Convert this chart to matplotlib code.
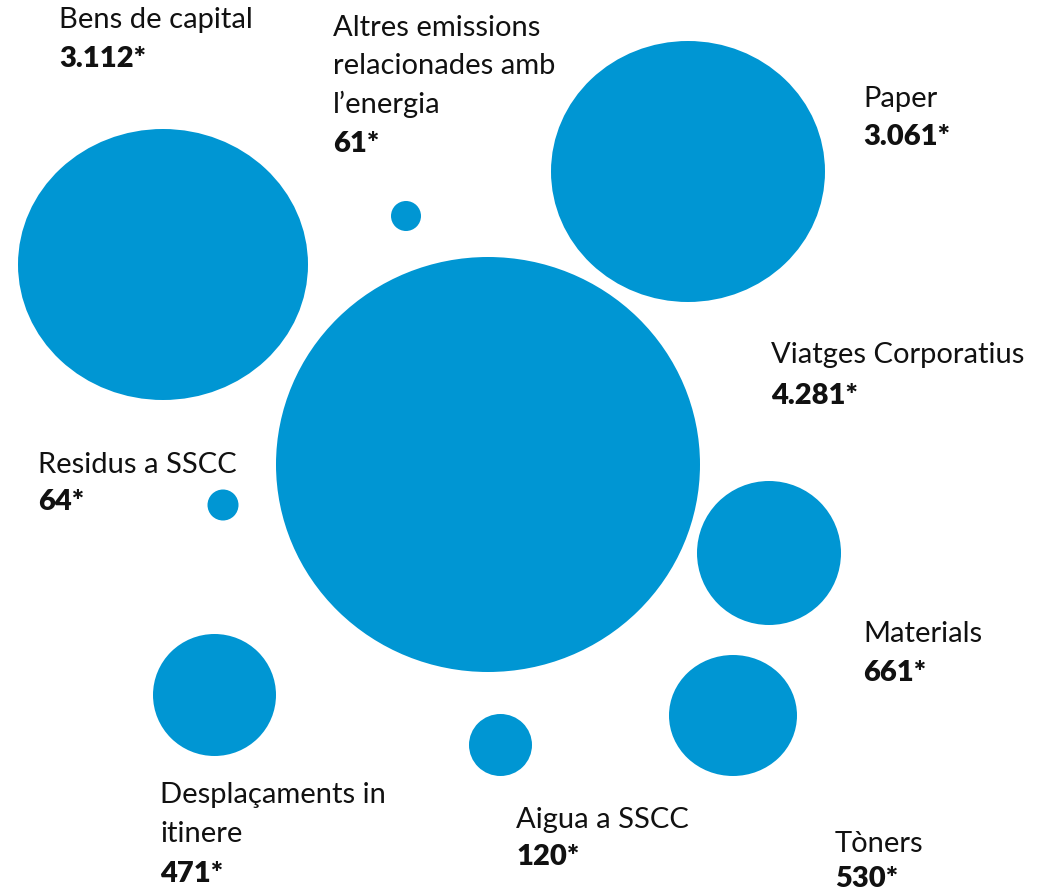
import matplotlib.pyplot as plt
from matplotlib.patches import Ellipse

# categories and values (tCO2e)
categories = ["Bens de capital", "Altres emissions\nrelacionades amb\nl\u2019energia", "Paper",
              "Viatges Corporatius", "Residus a SSCC", "Materials",
              "Desplaçaments in\nitinere", "Aigua a SSCC", "Tòners"]
values = [3112, 61, 3061, 4281, 64, 661, 471, 120, 530]

# bubble layout (pixel space): center x, center y, width, height
bub_x = [163, 406, 688, 488, 223, 769, 214.5, 500.5, 733]
bub_y = [264.5, 216, 171.5, 464.5, 505, 553, 695, 745, 715.5]
bub_w = [290, 30, 274, 424, 31, 144, 123, 63, 128]
bub_h = [271, 30, 261, 415, 31, 144, 122, 62, 121]

# label anchor: left x, first baseline y, line gap
lab_x = [59, 333, 863, 771, 38, 863, 160, 516, 835]
lab_y = [28, 36, 107, 363, 473, 642, 803, 828, 852]
gap = [39, 38.5, 38, 41, 37, 39, 39.5, 37, 35]

color = '#0096D3'
plt.rcParams['font.family'] = ['Lato', 'DejaVu Sans']

fig = plt.figure(figsize=(10.53, 8.96), dpi=100)
ax = fig.add_axes([0, 0, 1, 1])
ax.set_xlim(0, 1053)
ax.set_ylim(896, 0)
ax.axis('off')

for x, y, w, h in zip(bub_x, bub_y, bub_w, bub_h):
    ax.add_patch(Ellipse((x, y), w, h, facecolor=color, edgecolor='none'))

for cat, v, x, y, g in zip(categories, values, lab_x, lab_y, gap):
    lines = cat.split("\n")
    for i, line in enumerate(lines):
        ax.text(x, y + i * g, line, fontsize=21, color='#111111', va='baseline', ha='left')
    txt = f"{v:,}".replace(",", ".") + "*"
    ax.text(x, y + len(lines) * g, txt, fontsize=21, fontweight='heavy',
            color='#111111', va='baseline', ha='left')

fig.savefig('out.png', dpi=100)
